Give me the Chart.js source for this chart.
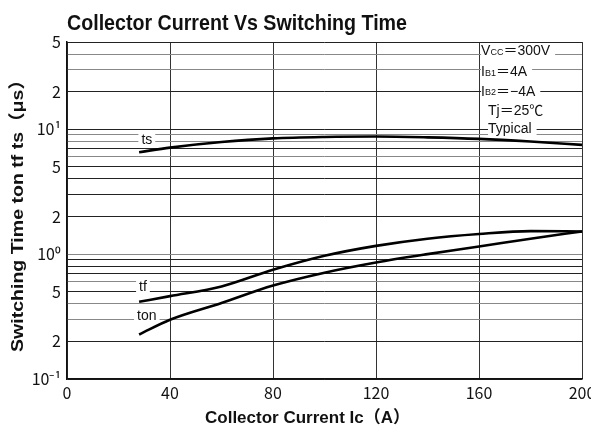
<!DOCTYPE html>
<html>
<head>
<meta charset="utf-8">
<script src="https://cdn.jsdelivr.net/npm/chart.js@4.4.1/dist/chart.umd.min.js"></script>
<style>
  html, body { margin: 0; padding: 0; background: #fff; }
  #wrap { width: 591px; height: 431px; }
</style>
</head>
<body>
<div id="wrap"><canvas id="chart" width="591" height="431"></canvas></div>
<script>
// Collector current (A)
const currentA = [28, 40, 60, 80, 100, 120, 140, 160, 180, 200];
// switching times (us)
const tsUs  = [6.55, 7.13, 7.9, 8.45, 8.68, 8.75, 8.62, 8.38, 7.98, 7.5];
const tfUs  = [0.415, 0.461, 0.551, 0.75, 0.97, 1.165, 1.33, 1.45, 1.53, 1.52];
const tonUs = [0.227, 0.298, 0.406, 0.56, 0.71, 0.857, 1.0, 1.15, 1.33, 1.52];

// y grid values and the labels shown on some of them
const yGridValues = [0.1, 0.2, 0.3, 0.4, 0.5, 0.6, 0.7, 0.8, 0.9,
  1, 2, 3, 4, 5, 6, 7, 8, 9, 10, 20, 30, 40, 50];
const yTickLabels = { 0.1: "10⁻¹", 0.2: "2", 0.5: "5", 1: "10⁰", 2: "2", 5: "5", 10: "10¹", 20: "2", 50: "5" };
const grayLines = [0.3, 0.4, 0.6, 1, 6, 8, 9, 30, 40];

const FONT = "'Noto Sans CJK JP', 'Liberation Sans', sans-serif";
const SANS = "'Liberation Sans', 'Noto Sans CJK JP', Arial, sans-serif";

// curve names and test conditions (text only)
const curveNames = [
  { text: "ts", x: 31, y: 8.2 },
  { text: "tf", x: 29.5, y: 0.54 },
  { text: "ton", x: 31, y: 0.32 }
];
const conditions = [
  { text: ["V", "CC", "＝300V"], x: 160.8, y: 42 },
  { text: ["I", "B1", "＝4A"], x: 160.8, y: 28.5 },
  { text: ["I", "B2", "＝−4A"], x: 160.8, y: 20 },
  { text: ["Tj＝25℃"], x: 163.5, y: 14 },
  { text: ["Typical"], x: 163.5, y: 10.1 }
];

// text squeezed to a given width (the scan uses a condensed face)
function fitText(ctx, text, x, y, width) {
  const w = ctx.measureText(text).width;
  ctx.save();
  ctx.translate(x, y);
  ctx.scale(width / w, 1);
  ctx.fillText(text, 0, 0);
  ctx.restore();
}

// draws the titles, curve names and conditions block
const textPlugin = {
  id: "textPlugin",
  beforeDatasetsDraw(chart) {
    const ctx = chart.ctx;
    const xs = chart.scales.x;
    const ys = chart.scales.y;
    ctx.save();
    ctx.textBaseline = "middle";

    // curve names
    ctx.font = "14px " + SANS;
    ctx.textAlign = "center";
    curveNames.forEach(n => {
      const px = xs.getPixelForValue(n.x);
      const py = ys.getPixelForValue(n.y);
      const w = ctx.measureText(n.text).width;
      ctx.fillStyle = "#fff";
      ctx.fillRect(px - w / 2 - 3, py - 7, w + 6, 13);
      ctx.fillStyle = "#111";
      ctx.fillText(n.text, px, py);
    });

    // conditions
    ctx.textAlign = "left";
    conditions.forEach(c => {
      let px = xs.getPixelForValue(c.x);
      const py = ys.getPixelForValue(c.y);
      const parts = c.text.map((t, i) => {
        const small = c.text.length > 1 && i === 1;
        const font = small ? "9px " + SANS : "14px " + SANS;
        ctx.font = font;
        return { t, font, w: ctx.measureText(t).width, small };
      });
      const total = parts.reduce((s, p) => s + p.w, 0);
      ctx.fillStyle = "#fff";
      ctx.fillRect(px, py - 8, total + 5, 15);
      ctx.fillStyle = "#111";
      parts.forEach(p => {
        ctx.font = p.font;
        ctx.fillText(p.t, px, p.small ? py + 1 : py);
        px += p.w;
      });
    });

    // chart title
    ctx.textBaseline = "alphabetic";
    ctx.font = "bold 22px " + SANS;
    fitText(ctx, "Collector Current Vs Switching Time", 67, 30, 340);

    // axis titles
    ctx.font = "bold 17px " + SANS;
    fitText(ctx, "Collector Current Ic（A）", 205, 423, 205);
    ctx.save();
    ctx.translate(23, 352);
    ctx.rotate(-Math.PI / 2);
    fitText(ctx, "Switching Time ton tf ts（μs）", 0, 0, 282);
    ctx.restore();

    ctx.restore();
  }
};

const ctx = document.getElementById("chart").getContext("2d");

new Chart(ctx, {
  type: "line",
  data: {
    datasets: [
      { label: "ts", data: currentA.map((x, i) => ({ x, y: tsUs[i] })) },
      { label: "tf", data: currentA.map((x, i) => ({ x, y: tfUs[i] })) },
      { label: "ton", data: currentA.map((x, i) => ({ x, y: tonUs[i] })) }
    ]
  },
  options: {
    responsive: false,
    animation: false,
    devicePixelRatio: 1,
    layout: { padding: { top: 42, right: 9, left: 0, bottom: 0 } },
    elements: {
      line: { borderColor: "#000", borderWidth: 2.6, cubicInterpolationMode: "monotone", fill: false },
      point: { radius: 0 }
    },
    plugins: {
      legend: { display: false },
      tooltip: { enabled: false }
    },
    scales: {
      x: {
        type: "linear",
        min: 0,
        max: 200,
        ticks: { stepSize: 40, color: "#111", font: { family: FONT, size: 16 }, padding: 4, maxRotation: 0 },
        grid: { color: "#333", lineWidth: 1, drawTicks: false },
        border: { color: "#111", width: 1.5 },
        afterFit: scale => {
          scale.height = 52;
          scale.paddingRight = 0;
          scale.paddingLeft = 0;
        }
      },
      y: {
        type: "logarithmic",
        min: 0.1,
        max: 50,
        afterBuildTicks: scale => {
          scale.ticks = yGridValues.map(v => ({ value: v }));
        },
        ticks: {
          autoSkip: false,
          color: "#111",
          font: { family: FONT, size: 16 },
          padding: 6,
          callback: v => yTickLabels[v] || ""
        },
        grid: {
          drawTicks: false,
          lineWidth: 1,
          color: c => grayLines.includes(c.tick.value) ? "#888" : "#222"
        },
        border: { color: "#111", width: 1.5 },
        afterFit: scale => {
          scale.width = 67;
          scale.paddingTop = 0;
          scale.paddingBottom = 0;
        }
      }
    }
  },
  plugins: [textPlugin]
});
</script>
</body>
</html>
